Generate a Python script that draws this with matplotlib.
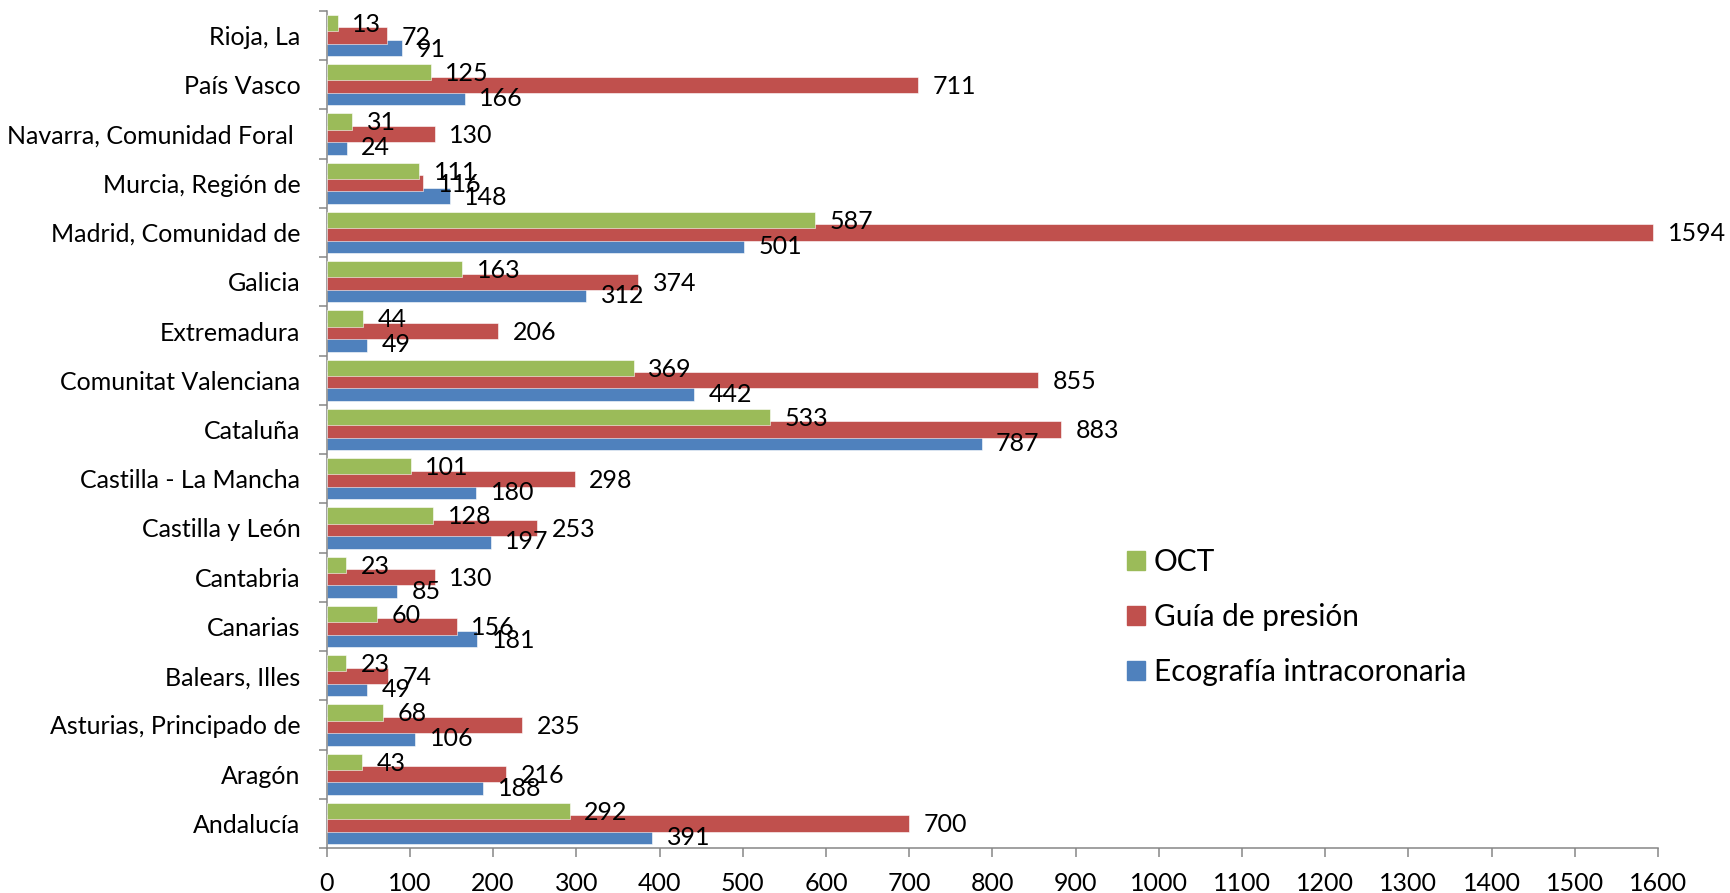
import numpy as np
import matplotlib.pyplot as plt
from matplotlib.patches import Patch

plt.rcParams['font.family'] = ['Lato', 'DejaVu Sans']

# comunidades, de abajo arriba como en el original
regiones = ["Andalucía", "Aragón", "Asturias, Principado de", "Balears, Illes",
            "Canarias", "Cantabria", "Castilla y León", "Castilla - La Mancha",
            "Cataluña", "Comunitat Valenciana", "Extremadura", "Galicia",
            "Madrid, Comunidad de", "Murcia, Región de",
            "Navarra, Comunidad Foral ", "País Vasco", "Rioja, La"]
eco = [391, 188, 106, 49, 181, 85, 197, 180, 787, 442, 49, 312, 501, 148, 24, 166, 91]
guia = [700, 216, 235, 74, 156, 130, 253, 298, 883, 855, 206, 374, 1594, 116, 130, 711, 72]
oct_ = [292, 43, 68, 23, 60, 23, 128, 101, 533, 369, 44, 163, 587, 111, 31, 125, 13]

series = [("Ecografía intracoronaria", eco, "#4F81BD", -0.254),
          ("Guía de presión", guia, "#C0504D", 0.0),
          ("OCT", oct_, "#9BBB59", 0.254)]

fs = 18
gris = "#868686"

fig = plt.figure(figsize=(17.3, 8.93), dpi=100)
ax = fig.add_axes([326.7 / 1730, 45 / 893, (1658 - 326.7) / 1730, (848 - 11) / 893])

y = np.arange(len(regiones))
for k, (nombre, vals, color, off) in enumerate(series):
    ax.barh(y + off, vals, height=0.33, color=color, edgecolor="white",
            linewidth=0.4, zorder=2 + k)

# etiquetas de valor encima de todo
for nombre, vals, color, off in series:
    for yi, v in zip(y, vals):
        ax.annotate(str(v), (v, yi + off), xytext=(10.5, -1), textcoords="offset points",
                    va="center", ha="left", fontsize=fs, zorder=10)

ax.set_xlim(0, 1600)
ax.set_ylim(-0.5, len(regiones) - 0.5)
ax.set_xticks(np.arange(0, 1601, 100))
ax.set_yticks(y)
ax.set_yticklabels(regiones)
ax.set_yticks(np.arange(-0.5, len(regiones), 1), minor=True)

ax.tick_params(axis="y", which="major", length=0, pad=19, labelsize=fs)
ax.tick_params(axis="y", which="minor", length=6, width=1.1, color=gris)
ax.tick_params(axis="x", length=6.5, width=1.1, color=gris, pad=11, labelsize=fs)

for s in ["top", "right"]:
    ax.spines[s].set_visible(False)
for s in ["left", "bottom"]:
    ax.spines[s].set_color(gris)
    ax.spines[s].set_linewidth(1.1)

handles = [Patch(color=c, label=n) for n, v, c, o in series[::-1]]
fig.legend(handles=handles, loc="center left", bbox_to_anchor=(1127 / 1730, (893 - 617) / 893),
           frameon=False, fontsize=21.4, handlelength=0.6, handleheight=0.6,
           handletextpad=0.3, labelspacing=0.9, borderpad=0, borderaxespad=0)

fig.savefig("out.png", dpi=100)
